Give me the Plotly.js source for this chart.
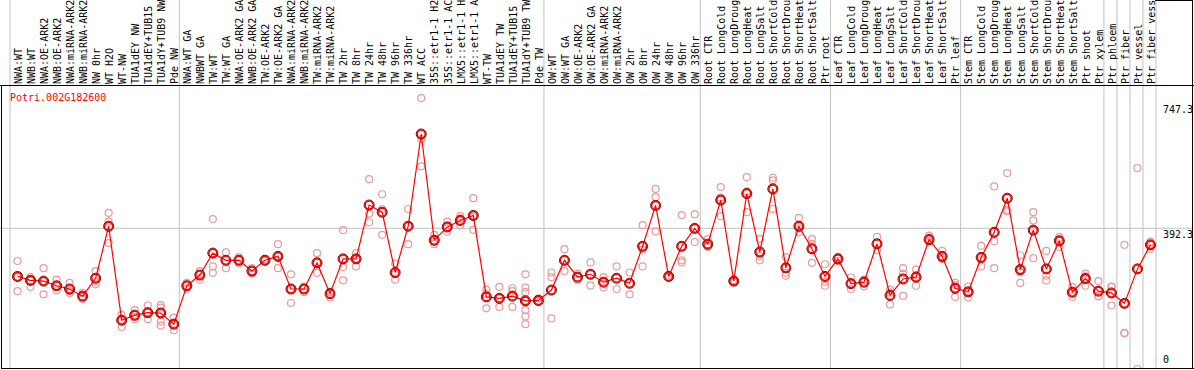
<!DOCTYPE html>
<html>
<head>
<meta charset="utf-8">
<script src="https://cdn.plot.ly/plotly-3.0.1.min.js"></script>
<style>
html,body{margin:0;padding:0;background:#fff;}
#chart{width:1194px;height:370px;}
</style>
</head>
<body>
<div id="chart"></div>
<script>
const categories = [
  "NWA:WT","NWB:WT","NWA:OE-ARK2","NWB:OE-ARK2","NWA:miRNA-ARK2","NWB:miRNA-ARK2","NW 0hr","WT H2O","WT-NW","TUA1dEY NW","TUA1dEY+TUB15","TUA1dY+TUB9 NW","Pde NW",
  "NWA:WT GA","NWBWT GA","TW:WT","TW:WT GA","NWA:OE-ARK2 GA","NWB:OE-ARK2 GA","TW:OE-ARK2","TW:OE-ARK2 GA","NWA:miRNA-ARK2","NWB:miRNA-ARK2","TW:miRNA-ARK2","TW:miRNA-ARK2",
  "TW 2hr","TW 8hr","TW 24hr","TW 48hr","TW 96hr","TW 336hr","WT ACC","35S::etr1-1 H2O","35S::etr1-1 ACC","LMX5::etr1-1 H2O","LMX5::etr1-1 ACC","WT-TW","TUA1dEY TW","TUA1dEY+TUB15","TUA1dY+TUB9 TW","Pde TW",
  "OW:WT","OW:WT GA","OW:OE-ARK2","OW:OE-ARK2 GA","OW:miRNA-ARK2","OW:miRNA-ARK2","OW 2hr","OW 8hr","OW 24hr","OW 48hr","OW 96hr","OW 336hr",
  "Root CTR","Root LongCold","Root LongDrought","Root LongHeat","Root LongSalt","Root ShortCold","Root ShortDrought","Root ShortHeat","Root ShortSalt","Ptr root",
  "Leaf CTR","Leaf LongCold","Leaf LongDrought","Leaf LongHeat","Leaf LongSalt","Leaf ShortCold","Leaf ShortDrought","Leaf ShortHeat","Leaf ShortSalt","Ptr leaf",
  "Stem CTR","Stem LongCold","Stem LongDrought","Stem LongHeat","Stem LongSalt","Stem ShortCold","Stem ShortDrought","Stem ShortHeat","Stem ShortSalt","Ptr shoot","Ptr xylem",
  "Ptr phloem","Ptr fiber","Ptr vessel","Ptr fiber vessel"
];

const groupSizes = [13, 28, 12, 10, 10, 11, 1, 1, 1, 1];

const means = [
  258,247,245,232,223,203,253,398,136,150,157,156,125,
  232,262,323,303,303,273,303,314,223,223,296,210,
  307,307,457,437,269,398,655,359,396,414,428,201,197,203,190,191,
  220,303,256,264,242,253,239,342,456,258,342,392,
  348,471,245,489,326,502,282,398,335,258,
  307,238,242,349,205,251,256,361,314,225,
  215,311,381,476,277,387,279,357,214,252,217,212,
  183,279,346
];

const replicates = [
  [301,256,217],[256,247,229],[281,245,208],[249,232,219],[240,217,212],[212,201,195],[273,243,236],[435,411,351],[151,138,117],[164,145,139],[177,158,139],[178,171,156,132,121],[143,125,108],
  [240,224],[273,249],[418,286,268],[325,281],[312,294],[281,266],[307,301],[348,314,281],[264,223,184],[230,214],[323,296,268],[216,214,199],
  [387,284,247],[323,307,286],[529,433,409],[487,446,374],[294,265,249],[446,398,348],[755,641,565],[374,355,348],[411,383],[427,420,400],[476,424,388],[221,210,169],[229,197,173],[225,217,173],[264,227,214,190,164,147,125],[197,188],
  [269,256,141],[334,273],[266,248],[297,233],[256,227],[286,223],[269,208],[401,333,286],[502,479,383],[262,255],[429,303,297],[431,354],
  [362,342,340],[507,478,426],[248,245,242],[535,495,437],[362,314,303],[533,526,446],[312,268,260],[421,392,381],[362,349,296],[292,243,232],
  [312,301],[255,223],[249,230,246],[368,331],[221,213,180],[281,266,204],[277,262,232],[372,358,353],[329,307,306],[240,234,201],
  [230,216,199],[343,303,286],[509,356,281],[546,439,443],[317,269,240],[437,414,309],[329,260,247],[368,362,340],[229,212,201],[266,258,232],[245,203,203],[229,230,177],
  [346,101,99],[560,0],[355,346,335]
];

const axisLabels = [0, 392.3, 747.3];
const geneName = "Potri.002G182600";

// ---- layout geometry ----
const W = 1194, H = 370;
const mL = 11, mR = 37, mT = 87, mB = 1;
const pw = W - mL - mR, ph = H - mT - mB;
const px2paperX = p => (p - mL) / pw;
const py2paperY = p => (H - mB - p) / ph;

const idx = categories.map((_, i) => i);
const repX = [], repY = [];
replicates.forEach((r, i) => r.forEach(v => { repX.push(i); repY.push(v); }));

const shapes = [];
let acc = 0;
const bounds = [-0.5];
groupSizes.forEach(s => { acc += s; bounds.push(acc - 0.5); });
bounds.forEach(b => {
  const xp = (b + 0.5) / categories.length - 1 / pw;
  shapes.push({type:'line', xref:'paper', yref:'paper', x0:xp, x1:xp, y0:0, y1:py2paperY(0),
    line:{color:'#c0c0c0', width:1}, layer:'below'});
});
shapes.push({type:'line', xref:'paper', yref:'y', x0:px2paperX(0), x1:px2paperX(1193), y0:axisLabels[1], y1:axisLabels[1],
  line:{color:'#c0c0c0', width:1}, layer:'below'});
const blk = {color:'#000', width:1};
shapes.push({type:'line', xref:'paper', yref:'paper', x0:px2paperX(0), x1:px2paperX(1194), y0:py2paperY(85.5), y1:py2paperY(85.5), line:blk});
shapes.push({type:'line', xref:'paper', yref:'paper', x0:px2paperX(1.5), x1:px2paperX(1.5), y0:py2paperY(85.5), y1:py2paperY(369), line:blk});
shapes.push({type:'line', xref:'paper', yref:'paper', x0:px2paperX(1.5), x1:px2paperX(1194), y0:py2paperY(368.5), y1:py2paperY(368.5), line:blk});
shapes.push({type:'line', xref:'paper', yref:'paper', x0:px2paperX(1192.5), x1:px2paperX(1192.5), y0:py2paperY(0), y1:py2paperY(369), line:blk});
shapes.push({type:'line', xref:'paper', yref:'paper', x0:px2paperX(1155), x1:px2paperX(1193), y0:py2paperY(0.5), y1:py2paperY(0.5), line:blk});

const mono = 'DejaVu Sans Mono, monospace';
const annotations = [
  {text:geneName, xref:'paper', yref:'paper', x:px2paperX(8), y:py2paperY(97), xanchor:'left', yanchor:'middle',
   showarrow:false, font:{family:mono, size:10, color:'#ff0000'}},
  {text:String(axisLabels[2]), xref:'paper', yref:'y', x:px2paperX(1161), y:axisLabels[2], xanchor:'left', yanchor:'top', yshift:-1,
   showarrow:false, font:{family:mono, size:10, color:'#000'}},
  {text:String(axisLabels[1]), xref:'paper', yref:'y', x:px2paperX(1161), y:axisLabels[1], xanchor:'left', yanchor:'top', yshift:1,
   showarrow:false, font:{family:mono, size:10, color:'#000'}},
  {text:String(axisLabels[0]), xref:'paper', yref:'y', x:px2paperX(1161), y:axisLabels[0], xanchor:'left', yanchor:'bottom', yshift:2,
   showarrow:false, font:{family:mono, size:10, color:'#000'}}
];

const traces = [
  {x:repX, y:repY, type:'scatter', mode:'markers', hoverinfo:'skip',
   marker:{symbol:'circle-open', size:7, color:'#eb9a9a', line:{width:1.2}}},
  {x:idx, y:means, type:'scatter', mode:'lines+markers',
   line:{color:'#ff0000', width:1.2},
   marker:{symbol:'circle-open', size:10, color:'#600000', line:{width:1}}},
  {x:idx, y:means, type:'scatter', mode:'markers',
   marker:{symbol:'circle-open', size:8, color:'#ff0000', line:{width:1.6}}}
];

const layout = {
  width:W, height:H,
  margin:{l:mL, r:mR, t:mT, b:mB, pad:0},
  paper_bgcolor:'#fff', plot_bgcolor:'rgba(0,0,0,0)',
  showlegend:false,
  xaxis:{type:'linear', range:[-0.5, categories.length - 0.5], side:'top', tickmode:'array', tickvals:idx, ticktext:categories,
    tickangle:-90, ticks:'', showgrid:false, zeroline:false, showline:false, automargin:false,
    ticklabelstandoff:2, ticklabelshift:1,
    tickfont:{family:mono, size:10, color:'#000'}, fixedrange:true},
  yaxis:{range:[0, 786], showgrid:false, zeroline:false, showline:false, showticklabels:false, ticks:'', automargin:false, fixedrange:true},
  shapes:shapes,
  annotations:annotations
};

Plotly.newPlot('chart', traces, layout, {staticPlot:true, displayModeBar:false});
</script>
</body>
</html>
